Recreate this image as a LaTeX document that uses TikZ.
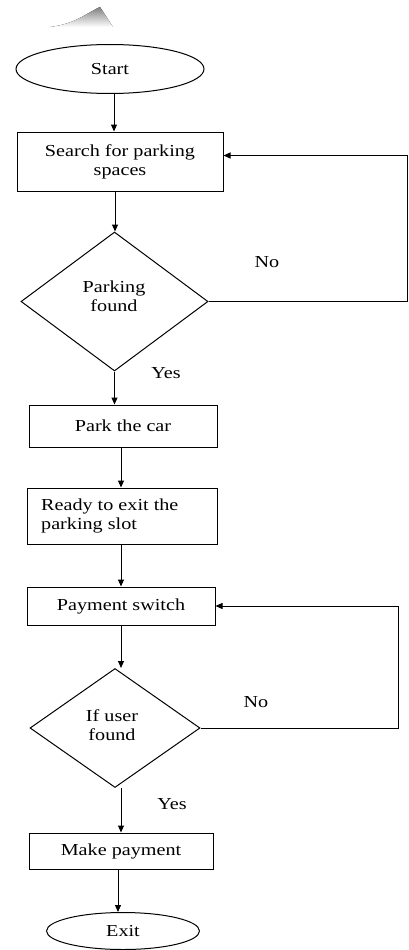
\documentclass[tikz,border=0pt]{standalone}
\usepackage{fontspec}
\setmainfont{Liberation Serif}[FakeStretch=1.2]
\usetikzlibrary{shapes.geometric,arrows.meta}
\definecolor{shade}{HTML}{D8DFE5}
\tikzset{
  flowbox/.style={draw, rectangle, line width=1pt, inner sep=0pt, align=center},
  terminal/.style={draw, ellipse, line width=1pt, inner sep=0pt},
  decision/.style={draw, diamond, line width=1pt, inner sep=0pt, align=center},
  arr/.style={-{Triangle[length=7pt,width=6pt]}, line width=1pt},
  lbl/.style={inner sep=0pt}
}
\begin{document}
\begin{tikzpicture}[x=1pt, y=-1pt, font=\fontsize{16.8}{19}\selectfont]
    \useasboundingbox (0,0) rectangle (409,950);
    % page artefact
    \fill[shade] (50,27) .. controls (75,24) and (85,14) .. (100,7) -- (113,27) -- cycle;

    % nodes
    \node[terminal, minimum width=188pt, minimum height=49pt] (start) at (110,69) {Start};
    \node[flowbox, minimum width=206pt, minimum height=59pt] (search) at (120,161.5) {Search for parking\\spaces};
    \node[decision, minimum width=187pt, minimum height=139pt] (found) at (114.5,301.5) {};
    \node[lbl, align=center] (foundtxt) at (114,296) {Parking\\found};
    \node[flowbox, minimum width=188pt, minimum height=42pt] (park) at (123,426) {Park the car};
    \node[flowbox, minimum width=190pt, minimum height=56pt] (ready) at (122,516) {};
    \node[lbl, align=left, anchor=west] (readytxt) at (41,516) {Ready to exit the\\parking slot};
    \node[flowbox, minimum width=188pt, minimum height=38pt] (pay) at (121,606) {Payment switch};
    \node[decision, minimum width=170pt, minimum height=119pt] (user) at (115,728) {};
    \node[lbl, align=center] (usertxt) at (112,725) {If user\\found};
    \node[flowbox, minimum width=184pt, minimum height=36pt] (make) at (121,851) {Make payment};
    \node[terminal, minimum width=153pt, minimum height=37pt] (exit) at (123,931) {Exit};

    % labels
    \node[lbl] (no1) at (267,262) {No};
    \node[lbl] (yes1) at (166,373) {Yes};
    \node[lbl] (no2) at (256,702) {No};
    \node[lbl] (yes2) at (172,804) {Yes};

    % loop corners
    \coordinate (loopa) at (407,300);
    \coordinate (loopb) at (398,730);
    \coordinate (searchin) at ([yshift=6pt]search.east);

    % connectors
    \draw[arr] ([xshift=4pt]start.south) -- ([xshift=4pt]start.south |- search.north);
    \draw[arr] ([xshift=-5pt]search.south) -- ([xshift=-5pt]search.south |- found.north);
    \draw[arr] (found.south) -- (found.south |- park.north);
    \draw[arr] ([xshift=-2pt]park.south) -- ([xshift=-2pt]park.south |- ready.north);
    \draw[arr] ([xshift=-1pt]ready.south) -- ([xshift=-1pt]ready.south |- pay.north);
    \draw[arr] (pay.south) -- (pay.south |- user.north);
    \draw[arr] ([xshift=6pt]user.south) -- ([xshift=6pt]user.south |- make.north);
    \draw[arr] ([xshift=-3pt]make.south) -- ([xshift=-3pt]make.south |- exit.north);
    \draw[arr] (found.east) -- (found.east -| loopa) |- (searchin);
    \draw[arr] (user.east) -- (user.east -| loopb) |- (pay.east);
\end{tikzpicture}
\end{document}
